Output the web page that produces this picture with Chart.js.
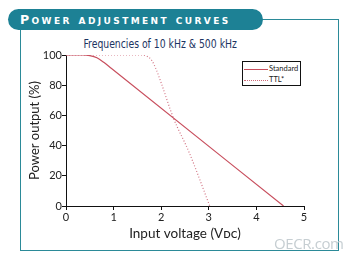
<!DOCTYPE html>
<html lang="en">
<head>
    <meta charset="UTF-8">
    <title>Power adjustment curves</title>
    <script src="https://cdn.jsdelivr.net/npm/chart.js"></script>
    <style>
        body, html {
            margin: 0;
            padding: 0;
            width: 347px;
            height: 255px;
            overflow: hidden;
            background: #fff;
            font-family: Lato, "Open Sans", sans-serif;
        }
        #frame {
            position: absolute;
            left: 20px; top: 19px;
            width: 317px; height: 230px;
            border: 1px solid #2b8a98;
            box-sizing: content-box;
        }
        #banner {
            position: absolute;
            left: 8px; top: 9px;
            width: 255px; height: 21px;
            background: #1d8195;
            border-radius: 11px;
            color: #fff;
            font-family: "DejaVu Sans", sans-serif;
            font-weight: bold;
            font-size: 12.5px;
            font-variant: small-caps;
            letter-spacing: 2.4px;
            line-height: 21px;
            padding-left: 12px;
            box-sizing: border-box;
            white-space: nowrap;
        }
        #subtitle {
            position: absolute;
            left: 0; width: 320px; top: 32px;
            text-align: center;
        }
        #subtitle span {
            display: inline-block;
            font-family: "DejaVu Sans Condensed", Lato, sans-serif;
            font-size: 12px;
            color: #1c3462;
            transform: scaleX(0.86);
        }
        #chart {
            position: absolute;
            left: 0; top: 0;
        }
        #legend {
            position: absolute;
            left: 242px; top: 61px;
            width: 59px; height: 25px;
            border: 1px solid #111;
            background: #fff;
            font-size: 7.5px;
            color: #222;
            box-sizing: border-box;
        }
        .item { position: absolute; left: 1px; height: 9px; line-height: 9px; }
        .item span.ln { display: inline-block; width: 24px; vertical-align: middle; margin-right: 1px; }
        #watermark {
            position: absolute;
            left: 274px; top: 233px;
            font-family: "Open Sans", sans-serif;
            font-size: 15px;
            color: #c6ced2;
            letter-spacing: -0.4px;
        }
    </style>
</head>
<body>
    <div id="frame"></div>
    <div id="banner">Power adjustment curves</div>
    <div id="subtitle"><span>Frequencies of 10 kHz &amp; 500 kHz</span></div>
    <canvas id="chart" width="347" height="255"></canvas>
    <div id="legend">
        <div class="item" style="top:2px"><span class="ln" style="border-top:1px solid #c84f5e"></span>Standard</div>
        <div class="item" style="top:13px"><span class="ln" style="border-top:1px dotted #cf6a78"></span>TTL*</div>
    </div>
    <div id="watermark">OECR.com</div>

    <script>
        const xTicks = [0, 1, 2, 3, 4, 5];
        const yTicks = [0, 20, 40, 60, 80, 100];

        const standardX = [0, 0.35, 0.5, 0.65, 0.8, 0.95, 4.57];
        const standardY = [100, 100, 99.6, 98.2, 95.0, 91.2, 0];

        const ttlX = [0, 1.6, 1.7, 1.8, 1.9, 2.0, 2.26, 2.58, 3.02];
        const ttlY = [100, 100, 99.2, 96.5, 90, 81.5, 58, 36, 0];

        const toPoints = (xs, ys) => xs.map((x, i) => ({ x: x, y: ys[i] }));

        const axisFont = { family: 'Lato, sans-serif', size: 11 };

        new Chart(document.getElementById('chart'), {
            type: 'line',
            data: {
                datasets: [
                    {
                        label: 'Standard',
                        data: toPoints(standardX, standardY),
                        borderColor: '#c84f5e',
                        borderWidth: 1.2,
                        pointRadius: 0,
                        cubicInterpolationMode: 'monotone'
                    },
                    {
                        label: 'TTL*',
                        data: toPoints(ttlX, ttlY),
                        borderColor: '#d27383',
                        borderWidth: 1.2,
                        borderDash: [1, 2],
                        pointRadius: 0,
                        cubicInterpolationMode: 'monotone'
                    }
                ]
            },
            options: {
                responsive: false,
                animation: false,
                layout: { padding: { left: 23, top: 55, right: 43, bottom: 9 } },
                plugins: { legend: { display: false }, tooltip: { enabled: false } },
                scales: {
                    x: {
                        type: 'linear',
                        min: 0, max: 5,
                        afterBuildTicks: s => { s.ticks = xTicks.map(v => ({ value: v })); },
                        afterFit: s => { s.height = 40; },
                        border: { color: '#111', width: 1 },
                        grid: { drawOnChartArea: false, drawTicks: true, tickLength: 4, color: '#111' },
                        ticks: { color: '#222', font: axisFont, padding: 1, maxRotation: 0 },
                        title: { display: true, text: 'Input voltage (Vᴅᴄ)', color: '#222', font: { family: 'Lato, sans-serif', size: 13.5 }, padding: { top: 0 } }
                    },
                    y: {
                        min: 0, max: 100,
                        afterBuildTicks: s => { s.ticks = yTicks.map(v => ({ value: v })); },
                        afterFit: s => { s.width = 43; },
                        border: { color: '#111', width: 1 },
                        grid: { drawOnChartArea: false, drawTicks: true, tickLength: 4, color: '#111' },
                        ticks: { color: '#222', font: axisFont, padding: 0 },
                        title: { display: true, text: 'Power output (%)', color: '#222', font: { family: 'Lato, sans-serif', size: 13 }, padding: { bottom: 0 } }
                    }
                }
            }
        });
    </script>
</body>
</html>
